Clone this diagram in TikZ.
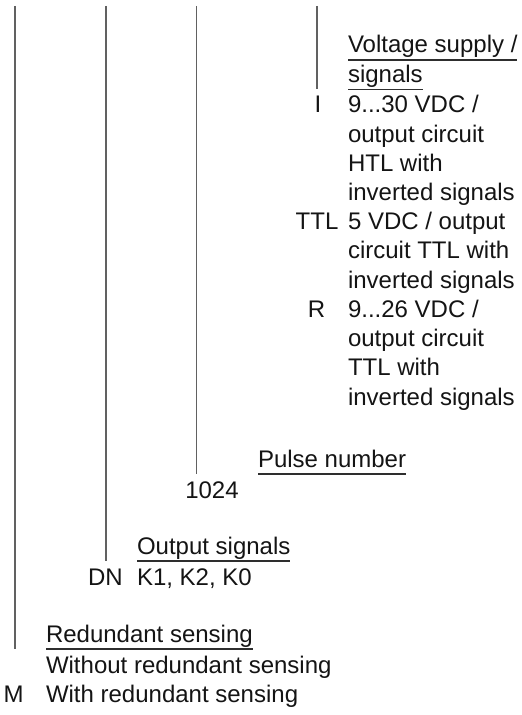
\documentclass[tikz,border=0pt]{standalone}
\usepackage{fontspec}
\setmainfont{Liberation Sans}
\usetikzlibrary{positioning}

\tikzset{
  txt/.style={inner sep=0pt, outer sep=0pt, font=\fontsize{12}{14}\selectfont, text=black!92},
  desc/.style={txt, anchor=base west},
  code/.style={txt, anchor=base},
  stem/.style={draw=black!62, line width=0.55pt},
  rule/.style={draw=black!82, line width=0.6pt},
}
% underline a header node a little below its baseline, name its left end
\newcommand{\ulhead}[1]{%
  \coordinate (#1u) at ([yshift=-3.5pt]#1.base west);
  \draw[rule] (#1u) -- ([yshift=-3.5pt]#1.base east);}

\begin{document}
\begin{tikzpicture}[x=0.5pt, y=-0.5pt]
\useasboundingbox (0,0) rectangle (521,715);

% voltage supply / signals
\node[desc] (volt) at (348,53) {Voltage supply /};
\node[desc] (sig) at (348,82.5) {signals};
\ulhead{volt}
\ulhead{sig}
\node[code] (cI) at (318,113) {I};
\node[desc] (dIa) at (348,113) {9...30 VDC /};
\node[desc] (dIb) at (348,142.2) {output circuit};
\node[desc] (dIc) at (348,171.4) {HTL with};
\node[desc] (dId) at (348,200.6) {inverted signals};
\node[code] (cTTL) at (317,229.8) {TTL};
\node[desc] (dTa) at (348,229.8) {5 VDC / output};
\node[desc] (dTb) at (348,259) {circuit TTL with};
\node[desc] (dTc) at (348,288.2) {inverted signals};
\node[code] (cR) at (316.5,317.4) {R};
\node[desc] (dRa) at (348,317.4) {9...26 VDC /};
\node[desc] (dRb) at (348,346.6) {output circuit};
\node[desc] (dRc) at (348,375.8) {TTL with};
\node[desc] (dRd) at (348,405) {inverted signals};

% pulse number
\node[desc] (pulse) at (258,467) {Pulse number};
\ulhead{pulse}
\node[code] (c1024) at (212,498) {1024};

% output signals
\node[desc] (outsig) at (137,554) {Output signals};
\ulhead{outsig}
\node[code] (cDN) at (105.5,585) {DN};
\node[desc] (dDN) at (137,585) {K1, K2, K0};

% redundant sensing
\node[desc] (redund) at (46,642) {Redundant sensing};
\ulhead{redund}
\node[desc] (dNone) at (46,673) {Without redundant sensing};
\node[code] (cM) at (13.5,702) {M};
\node[desc] (dM) at (46,702) {With redundant sensing};

% stems down to the headers
\coordinate (sVolt) at (317,6);
\coordinate (sPulse) at (196.5,6);
\coordinate (sOut) at (106,6);
\coordinate (sRed) at (15,6);
\draw[stem] (sVolt) -- (sVolt |- sigu);
\draw[stem] (sPulse) -- (sPulse |- pulseu);
\draw[stem] (sOut) -- (sOut |- outsigu);
\draw[stem] (sRed) -- (sRed |- redundu);
\end{tikzpicture}
\end{document}
